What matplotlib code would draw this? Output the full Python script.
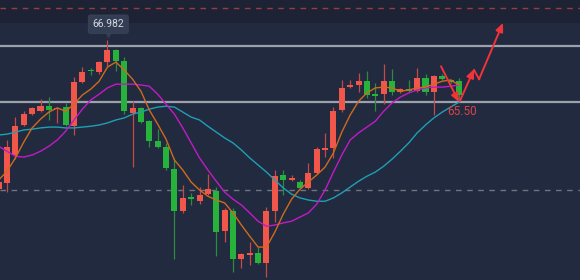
import numpy as np
import matplotlib
matplotlib.use("Agg")
import matplotlib.pyplot as plt
from matplotlib import font_manager

# ---------------- data ----------------
opens = [63.41, 63.56, 64.23, 64.95, 65.21, 65.28, 65.40, 65.33, 65.38, 64.92,
         65.98, 66.27, 66.22, 66.46, 66.75, 66.48, 65.24, 65.36, 65.04, 64.56,
         64.42, 63.89, 62.88, 63.22, 63.12, 63.29, 63.36, 62.40, 62.88, 61.73,
         61.83, 61.88, 61.64, 62.88, 63.75, 63.63, 63.58, 63.44, 63.80, 64.35,
         64.40, 65.31, 65.86, 65.91, 66.00, 65.69, 65.69, 66.00, 65.74, 65.81,
         65.76, 66.08, 65.74, 66.12, 66.03, 66.00]
highs = [63.63, 64.59, 65.14, 65.28, 65.38, 65.57, 65.62, 65.38, 65.48, 66.10,
         66.34, 66.32, 66.48, 66.982, 66.77, 66.58, 65.52, 65.38, 65.07, 64.85,
         64.52, 64.16, 63.51, 63.32, 63.46, 63.77, 63.46, 62.96, 62.96, 61.88,
         62.14, 62.02, 62.98, 63.87, 63.87, 63.75, 63.63, 64.04, 64.42, 64.76,
         65.38, 66.03, 66.03, 66.20, 66.24, 65.96, 66.41, 66.29, 65.84, 66.03,
         66.32, 66.17, 66.15, 66.17, 66.05, 66.08]
lows = [63.36, 63.34, 64.13, 64.92, 65.19, 65.26, 65.07, 65.00, 64.92, 64.71,
        65.96, 66.15, 66.17, 66.36, 66.24, 65.21, 63.94, 65.00, 64.42, 64.40,
        63.87, 61.73, 62.84, 63.03, 63.05, 63.27, 61.80, 62.14, 61.42, 61.52,
        61.59, 61.61, 61.30, 62.62, 63.27, 63.60, 63.41, 63.41, 63.77, 64.18,
        64.16, 65.26, 65.84, 65.74, 65.60, 65.28, 65.45, 65.67, 65.72, 65.74,
        65.74, 65.67, 65.19, 66.03, 65.96, 65.55]
closes = [63.58, 64.42, 64.92, 65.21, 65.36, 65.40, 65.31, 65.36, 64.95, 65.98,
          66.22, 66.24, 66.46, 66.75, 66.48, 65.28, 65.36, 65.02, 64.56, 64.42,
          63.92, 62.88, 63.20, 63.17, 63.27, 63.41, 62.38, 62.91, 61.73, 61.85,
          61.88, 61.64, 62.88, 63.72, 63.63, 63.68, 63.44, 63.80, 64.37, 64.40,
          65.28, 65.84, 65.91, 66.00, 65.67, 65.64, 66.00, 65.74, 65.81, 65.76,
          66.08, 65.74, 66.12, 66.05, 65.98, 65.67]

ma_orange = [63.63, 63.84, 64.16, 64.54, 64.88, 65.09, 65.26, 65.36, 65.28, 65.45,
             65.67, 65.81, 66.00, 66.34, 66.46, 66.27, 66.05, 65.76, 65.31, 64.97,
             64.61, 64.11, 63.87, 63.58, 63.39, 63.24, 63.15, 63.08, 62.84, 62.55,
             62.28, 62.02, 62.02, 62.38, 62.81, 63.17, 63.41, 63.58, 63.75, 63.94,
             64.28, 64.78, 65.19, 65.52, 65.72, 65.84, 65.86, 65.84, 65.76, 65.79,
             65.84, 65.86, 65.93, 66.00, 66.03, 65.91]
ma_magenta = [64.44, 64.32, 64.20, 64.18, 64.23, 64.32, 64.44, 64.59, 64.80, 65.07,
              65.33, 65.55, 65.69, 65.84, 65.93, 65.93, 65.93, 65.91, 65.88, 65.69,
              65.45, 65.21, 64.88, 64.52, 64.16, 63.87, 63.60, 63.34, 63.17, 63.03,
              62.84, 62.64, 62.52, 62.55, 62.60, 62.64, 62.74, 62.84, 63.05, 63.39,
              63.82, 64.23, 64.59, 64.76, 64.90, 65.04, 65.28, 65.48, 65.62, 65.72,
              65.79, 65.84, 65.86, 65.86, 65.88, 65.91]
ma_cyan = [64.71, 64.73, 64.78, 64.83, 64.85, 64.88, 64.90, 64.90, 64.88, 64.88,
           64.90, 64.92, 64.95, 65.00, 65.07, 65.12, 65.21, 65.26, 65.33, 65.38,
           65.40, 65.38, 65.26, 65.14, 65.07, 64.92, 64.78, 64.64, 64.52, 64.35,
           64.16, 63.99, 63.82, 63.63, 63.44, 63.29, 63.20, 63.15, 63.12, 63.12,
           63.20, 63.32, 63.46, 63.60, 63.72, 63.82, 63.96, 64.13, 64.32, 64.52,
           64.76, 64.95, 65.12, 65.26, 65.38, 65.50]

first_index = -1
peak_label = "66.982"
level_label = "65.50"
resistance_level = 66.84
support_level = 65.50
upper_dash_level = 67.76
lower_dash_level = 63.39

# hand-drawn forecast arrow (index, price)
arrow_down = [(51.85, 66.36), (54.0, 65.50)]
arrow_up1 = [(54.1, 65.52), (55.8, 66.29)]
arrow_back = [(55.8, 66.27), (56.4, 66.05)]
arrow_up2 = [(56.4, 66.05), (59.26, 67.40)]

# ---------------- style ----------------
bg = "#222a3f"
top_bg = "#1d2335"
up_col = "#f0564a"
dn_col = "#26b23b"
up_wick = "#c44a48"
dn_wick = "#2c8a42"

avail = {f.name for f in font_manager.fontManager.ttflist}
narrow = "Liberation Sans Narrow" if "Liberation Sans Narrow" in avail else "Roboto"

fig = plt.figure(figsize=(5.8, 2.8), dpi=100)
fig.patch.set_facecolor(bg)
ax = fig.add_axes([0, 0, 1, 1])
ax.set_facecolor(bg)
ax.set_xlim(-0.84, 68.46)
ax.set_ylim(61.23, 67.95)
ax.axis("off")

ax.axhspan(67.40, 68.5, color=top_bg, zorder=0, lw=0)

# reference lines
ax.axhline(upper_dash_level, color="#9a3d3f", lw=1.0, ls=(0, (4, 4)), zorder=1)
ax.axhline(lower_dash_level, color="#6f7480", lw=1.0, ls=(0, (4, 4)), zorder=1)
ax.axhline(resistance_level, color="#9ca1ab", lw=1.6, zorder=1)
ax.axhline(support_level, color="#9ca1ab", lw=1.6, zorder=1)

# candles
x = np.arange(first_index, first_index + len(opens))
o = np.array(opens); h = np.array(highs); l = np.array(lows); c = np.array(closes)
up = c >= o
wick_cols = [up_wick if u else dn_wick for u in up]
body_cols = [up_col if u else dn_col for u in up]
ax.vlines(x, l, h, colors=wick_cols, lw=0.9, zorder=2)
bottoms = np.minimum(o, c)
heights = np.maximum(np.abs(c - o), 0.03)
ax.bar(x, heights, bottom=bottoms, width=0.72, color=body_cols, lw=0, zorder=3)

# moving averages
ax.plot(x, ma_cyan, color="#1f9fb5", lw=1.0, zorder=4)
ax.plot(x, ma_magenta, color="#c21ac6", lw=1.0, zorder=4)
ax.plot(x, ma_orange, color="#d06a1c", lw=1.0, zorder=4)

# peak label
peak_idx = int(np.argmax(h)) + first_index
ax.plot([peak_idx + 0.1], [67.13], marker="v", ms=5, color="#333d53", zorder=6)
ax.text(peak_idx + 0.1, 67.37, peak_label, ha="center", va="center", fontsize=7.5,
        color="#d5d9e0", family=[narrow, "DejaVu Sans"], zorder=7,
        bbox=dict(boxstyle="round,pad=0.4,rounding_size=0.2", fc="#333d53", ec="#3b4559", lw=0.6))

# forecast arrows
arrow_col = "#f2333a"
for seg, head in ((arrow_down, True), (arrow_up1, True), (arrow_back, False), (arrow_up2, True)):
    (x0, y0), (x1, y1) = seg
    if head:
        ax.annotate("", xy=(x1, y1), xytext=(x0, y0),
                    arrowprops=dict(arrowstyle="-|>,head_length=0.5,head_width=0.22",
                                    color=arrow_col, lw=1.4, shrinkA=0, shrinkB=0), zorder=8)
    else:
        ax.plot([x0, x1], [y0, y1], color=arrow_col, lw=1.4, zorder=8)

ax.text(52.55, 65.27, level_label, ha="left", va="center", fontsize=8.5,
        color="#d8434a", family=[narrow, "DejaVu Sans"], zorder=8)

fig.savefig("out.png", dpi=100, facecolor=bg)
